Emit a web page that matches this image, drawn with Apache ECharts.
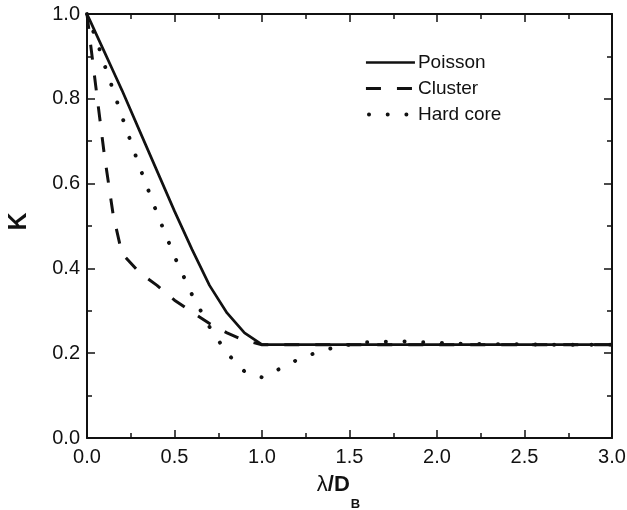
<!DOCTYPE html>
<html>
<head>
<meta charset="utf-8">
<script src="https://cdn.jsdelivr.net/npm/echarts@6/dist/echarts.min.js"></script>
<style>
  html, body { margin: 0; padding: 0; background: #fff; }
  #chart { width: 627px; height: 510px; }
</style>
</head>
<body>
<div id="chart"></div>
<script>
// λ/D_B sample positions shared by all three curves
const lambdaRatio = [0, 0.02, 0.05, 0.1, 0.15, 0.2, 0.3, 0.4, 0.5, 0.6, 0.7, 0.8, 0.9, 1.0,
  1.1, 1.2, 1.3, 1.4, 1.5, 1.6, 1.7, 1.8, 1.9, 2.0, 2.1, 2.2, 2.3, 2.4, 2.5, 2.6, 3.0];

// K for each spatial distribution
const poissonK = [1.0, 0.982, 0.955, 0.91, 0.865, 0.82, 0.725, 0.63, 0.535, 0.445, 0.36, 0.295, 0.248, 0.22,
  0.22, 0.22, 0.22, 0.22, 0.22, 0.22, 0.22, 0.22, 0.22, 0.22, 0.22, 0.22, 0.22, 0.22, 0.22, 0.22, 0.22];
const clusterK = [1.0, 0.93, 0.83, 0.665, 0.525, 0.435, 0.39, 0.36, 0.325, 0.297, 0.27, 0.248, 0.23, 0.22,
  0.22, 0.22, 0.22, 0.22, 0.22, 0.22, 0.22, 0.22, 0.22, 0.22, 0.22, 0.22, 0.22, 0.22, 0.22, 0.22, 0.22];
const hardCoreK = [1.0, 0.975, 0.945, 0.88, 0.82, 0.758, 0.64, 0.53, 0.428, 0.338, 0.262, 0.2, 0.157, 0.143,
  0.163, 0.184, 0.2, 0.212, 0.22, 0.226, 0.227, 0.228, 0.226, 0.225, 0.223, 0.222, 0.222, 0.221, 0.221, 0.22, 0.22];

const seriesNames = ['Poisson', 'Cluster', 'Hard core'];

const pairs = ys => lambdaRatio.map((x, i) => [x, ys[i]]);

const font = 'Arial, "Liberation Sans", Helvetica, sans-serif';
const ink = '#111';

// line looks shared by each curve and its legend sample
const solidLine = { color: ink, width: 2.7, type: 'solid' };
const dashLine = { color: ink, width: 3, type: [15, 16] };
const dotLine = { color: ink, width: 3.9, type: [0.1, 18.6], cap: 'round' };

const tickAxis = (extra) => Object.assign({
  axisLine: { show: true, onZero: false, lineStyle: { color: ink, width: 2 } },
  axisTick: { show: true, inside: true, length: 8, lineStyle: { color: ink, width: 1.5 } },
  minorTick: { show: true, splitNumber: 2, length: 5, lineStyle: { color: ink, width: 1.5 } },
  splitLine: { show: false },
  minorSplitLine: { show: false }
}, extra);

const chart = echarts.init(document.getElementById('chart'), null, { renderer: 'canvas' });

chart.setOption({
  animation: false,
  backgroundColor: '#fff',
  grid: { left: 87, right: 15, top: 14, bottom: 72, containLabel: false, outerBoundsMode: 'none' },
  legend: {
    orient: 'vertical',
    left: 359,
    top: 48,
    itemWidth: 49,
    itemHeight: 19,
    itemGap: 7,
    itemStyle: { opacity: 0 },
    textStyle: { fontFamily: font, fontSize: 19, color: ink, padding: [0, 0, 0, -2] },
    data: [
      { name: seriesNames[0], lineStyle: solidLine },
      { name: seriesNames[1], lineStyle: dashLine },
      { name: seriesNames[2], lineStyle: Object.assign({}, dotLine, { dashOffset: -3 }) }
    ]
  },
  xAxis: [
    tickAxis({
      type: 'value', position: 'bottom', min: 0, max: 3, interval: 0.5,
      axisLabel: { show: true, margin: 9, fontFamily: font, fontSize: 20, color: ink,
        formatter: v => v.toFixed(1) },
      name: '{l|λ}{d|/D}{s|B}',
      nameLocation: 'middle',
      nameGap: 20,
      nameTextStyle: {
        padding: [0, 22, 0, 0],
        rich: {
          l: { fontFamily: font, fontSize: 22, color: ink, fontWeight: 'normal' },
          d: { fontFamily: font, fontSize: 22, color: ink, fontWeight: 'bold' },
          s: { fontFamily: font, fontSize: 13, color: ink, fontWeight: 'bold', padding: [40, 0, 0, 1] }
        }
      }
    }),
    tickAxis({
      type: 'value', position: 'top', min: 0, max: 3, interval: 0.5,
      axisLabel: { show: false }
    })
  ],
  yAxis: [
    tickAxis({
      type: 'value', position: 'left', min: 0, max: 1, interval: 0.2,
      axisLabel: { show: true, margin: 7, fontFamily: font, fontSize: 20, color: ink,
        formatter: v => v.toFixed(1) },
      name: 'K',
      nameLocation: 'middle',
      nameGap: 55,
      nameTextStyle: { fontFamily: font, fontSize: 25, fontWeight: 'bold', color: ink, padding: [0, 0, 0, 9] }
    }),
    tickAxis({
      type: 'value', position: 'right', min: 0, max: 1, interval: 0.2,
      axisLabel: { show: false }
    })
  ],
  series: [
    {
      name: seriesNames[2], type: 'line', data: pairs(hardCoreK),
      xAxisIndex: 0, yAxisIndex: 0, symbol: 'none', z: 2,
      lineStyle: dotLine, itemStyle: { color: ink }
    },
    {
      name: seriesNames[1], type: 'line', data: pairs(clusterK),
      xAxisIndex: 0, yAxisIndex: 0, symbol: 'none', z: 3,
      lineStyle: dashLine, itemStyle: { color: ink }
    },
    {
      name: seriesNames[0], type: 'line', data: pairs(poissonK),
      xAxisIndex: 0, yAxisIndex: 0, symbol: 'none', z: 4,
      lineStyle: solidLine, itemStyle: { color: ink }
    }
  ]
});
</script>
</body>
</html>
